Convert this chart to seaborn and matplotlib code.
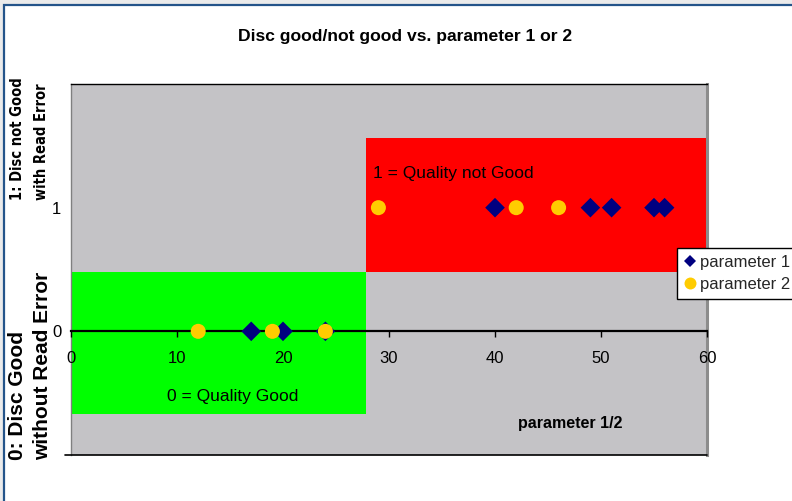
import matplotlib
matplotlib.use("Agg")
import matplotlib.pyplot as plt
from matplotlib import font_manager
from matplotlib.font_manager import FontProperties
from matplotlib.patches import Rectangle
from matplotlib.lines import Line2D
import pandas as pd
import seaborn as sns

# Measured parameter values and the resulting disc state (0 = good, 1 = not good)
param1_values = [17, 20, 24, 40, 49, 51, 55, 56]
param1_state = [0, 0, 0, 1, 1, 1, 1, 1]
param2_values = [12, 19, 24, 29, 42, 46]
param2_state = [0, 0, 0, 1, 1, 1]
series_names = ["parameter 1", "parameter 2"]

x_ticks = [0, 10, 20, 30, 40, 50, 60]
y_ticks = [0, 1]
y_tick_labels = ["0", "1"]

# Quality zones: (x start, x end, y low, y high)
good_zone = (0, 27.8, -0.67, 0.48)
bad_zone = (27.8, 60, 0.48, 1.56)

sns.set_theme(style="white")
plt.rcParams["font.family"] = ["Liberation Sans", "DejaVu Sans"]

df = pd.DataFrame({
    "value": param1_values + param2_values,
    "state": param1_state + param2_state,
    "series": [series_names[0]] * len(param1_values) + [series_names[1]] * len(param2_values),
})

# narrow bold face for the upper state label, if one is installed
narrow_file = None
for f in font_manager.fontManager.ttflist:
    is_narrow = ("Narrow" in f.name or "Condensed" in f.name
                 or str(f.stretch) in ("condensed", "semi-condensed"))
    is_bold = str(f.weight) in ("bold", "700", "600", "demibold", "semibold")
    if is_narrow and is_bold and "Oblique" not in f.style and "italic" not in f.style:
        narrow_file = f.fname
        break
if narrow_file:
    upper_font = FontProperties(fname=narrow_file, size=10.5)
else:
    upper_font = FontProperties(family=["Liberation Sans", "DejaVu Sans"], weight="bold", size=11)

W, H = 792, 501
fig = plt.figure(figsize=(W / 100, H / 100), dpi=100)
fig.patch.set_facecolor("#ebebeb")
fig.add_artist(Rectangle((4 / W, -0.05), 1.1, 1 - 5 / H + 0.05, transform=fig.transFigure,
                         facecolor="white", edgecolor="#24548a", lw=1.6, zorder=0))

ax = fig.add_axes([71 / W, 1 - 455 / H, (707 - 71) / W, (455 - 84) / H])
ax.set_facecolor("#c4c3c6")
ax.set_axisbelow(False)
ax.set_xlim(0, 60)
ax.set_ylim(-1, 2)

ax.add_patch(Rectangle((good_zone[0], good_zone[2]), good_zone[1] - good_zone[0],
                       good_zone[3] - good_zone[2], facecolor="#00ff00", edgecolor="none", zorder=1))
ax.add_patch(Rectangle((bad_zone[0], bad_zone[2]), bad_zone[1] - bad_zone[0],
                       bad_zone[3] - bad_zone[2], facecolor="#ff0000", edgecolor="none", zorder=1))

palette = {"parameter 1": "#000080", "parameter 2": "#ffcc00"}
markers = {"parameter 1": "D", "parameter 2": "o"}
sizes = {"parameter 1": 100, "parameter 2": 117}
sns.scatterplot(data=df, x="value", y="state", hue="series", style="series", size="series",
                palette=palette, markers=markers, sizes=sizes, linewidth=0, edgecolor="none",
                legend=False, ax=ax, zorder=5, clip_on=False)

# axis styling: category axis crosses at 0, plot area framed
ax.xaxis.set_zorder(3)
ax.yaxis.set_zorder(3)
ax.spines["bottom"].set_position(("data", 0))
ax.spines["bottom"].set_color("black")
ax.spines["bottom"].set_linewidth(1.6)
ax.spines["bottom"].set_zorder(3)
ax.spines["top"].set_color("black")
ax.spines["top"].set_linewidth(1.0)
ax.spines["left"].set_color("#808080")
ax.spines["left"].set_linewidth(1.0)
ax.spines["right"].set_color("#8c8c8c")
ax.spines["right"].set_linewidth(2.2)
ax.plot([-6 / 636, 1], [0, 0], transform=ax.transAxes, color="black", lw=1.2, clip_on=False, zorder=6)

ax.set_xticks(x_ticks)
ax.set_xticklabels([str(t) for t in x_ticks])
ax.set_yticks(y_ticks)
ax.set_yticklabels(y_tick_labels)
ax.tick_params(axis="x", direction="out", length=4, width=1, color="black", pad=10, labelsize=12,
               labelcolor="black", bottom=True)
ax.tick_params(axis="y", length=0, pad=7, labelsize=12, labelcolor="black", left=True)
ax.set_xlabel("")
ax.set_ylabel("")

ax.text(28.5, 1.28, "1 = Quality not Good", fontsize=12.5, ha="left", va="center", color="black", zorder=4)
ax.text(9.06, -0.525, "0 = Quality Good", fontsize=12.5, ha="left", va="center", color="black", zorder=4)
ax.text(42.2, -0.745, "parameter 1/2", fontsize=11.5, fontweight="bold", ha="left", va="center",
        color="black", zorder=4)

fig.text(405 / W, 1 - 37 / H, "Disc good/not good vs. parameter 1 or 2", fontsize=12.6,
         fontweight="bold", ha="center", va="center", color="black")

fig.text(30 / W, 1 - 460 / H, "0: Disc Good\nwithout Read Error", rotation=90, fontsize=15,
         fontweight="bold", ha="center", va="bottom", multialignment="left", color="black",
         linespacing=1.4)
fig.text(30 / W, 1 - 200 / H, "1: Disc not Good\nwith Read Error", rotation=90,
         fontproperties=upper_font, ha="center", va="bottom", multialignment="left",
         color="black", linespacing=1.75)

handles = [
    Line2D([], [], linestyle="none", marker=markers[n], color=palette[n],
           markersize=6.2 if markers[n] == "D" else 8.6, markeredgewidth=0)
    for n in series_names
]
leg = fig.legend(handles, series_names, loc="upper left", bbox_to_anchor=(677 / W, 1 - 248 / H),
                 frameon=True, fancybox=False, edgecolor="black", framealpha=1, fontsize=12,
                 borderaxespad=0, borderpad=0.4, handletextpad=0.15, handlelength=0.8,
                 labelspacing=0.45)
leg.get_frame().set_linewidth(1.0)

fig.savefig("out.png", dpi=100)
